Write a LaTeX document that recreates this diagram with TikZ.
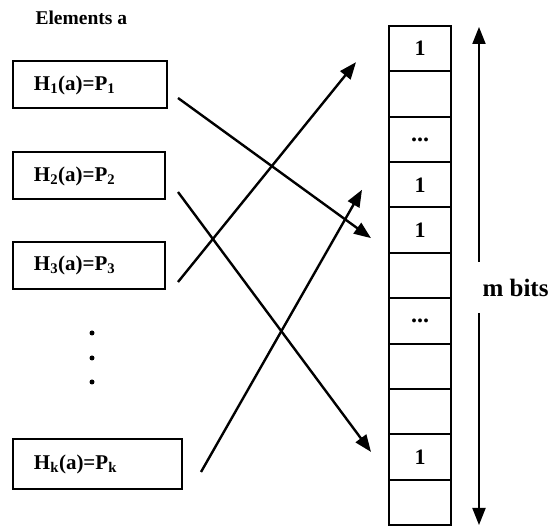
\documentclass[tikz,border=0pt]{standalone}
\usepackage{fontspec}
\setmainfont{Liberation Serif}
\usetikzlibrary{arrows.meta}
\newcommand{\bitdots}{\fontsize{24}{26}\selectfont...}
\begin{document}
\begin{tikzpicture}[x=1pt,y=1pt,
  hbox/.style={draw,line width=2pt,minimum height=47pt,inner xsep=21pt,
    font=\fontsize{21}{24}\selectfont\bfseries,align=left},
  bitcell/.style={draw,line width=2pt,minimum width=62pt,minimum height=45.36pt,
    inner sep=0pt,font=\fontsize{22}{24}\selectfont\bfseries},
  hasharrow/.style={line width=2.4pt,-{Triangle[length=17pt,width=13pt]}},
  dotmark/.style={circle,fill,inner sep=0pt,minimum size=5pt}]
\useasboundingbox (0,0) rectangle (550,531);
\node[font=\fontsize{19.5}{22}\selectfont\bfseries,anchor=base west] (elem) at (32,506) {Elements a};
\node[hbox,text width=112pt] (h1) at (90,446) {H\textsubscript{1}(a)=P\textsubscript{1}};
\node[hbox,text width=110pt] (h2) at (89,355) {H\textsubscript{2}(a)=P\textsubscript{2}};
\node[hbox,text width=110pt] (h3) at (89,265.5) {H\textsubscript{3}(a)=P\textsubscript{3}};
\node[hbox,text width=127pt,minimum height=50pt] (hk) at (97.5,67) {H\textsubscript{k}(a)=P\textsubscript{k}};
\node[dotmark] (d1) at (92,198) {};
\node[dotmark] (d2) at (92,173) {};
\node[dotmark] (d3) at (92,149) {};
\foreach \i/\t in {1/1,2/{},3/\bitdots,4/1,5/1,6/{},7/\bitdots,8/{},9/{},10/1,11/{}}{
  \node[bitcell] (c\i) at (420,{505-45.36*(\i-0.5)}) {\t};
}
\draw[hasharrow] ([xshift=10pt,yshift=-13pt]h1.east) -- ([xshift=-17pt,yshift=-8pt]c5.west);
\draw[hasharrow] ([xshift=12pt,yshift=-16pt]h2.east) -- ([xshift=-17pt,yshift=5pt]c10.west);
\draw[hasharrow] ([xshift=12pt,yshift=-16.5pt]h3.east) -- ([xshift=-32pt,yshift=-13.5pt]c1.west);
\draw[hasharrow] ([xshift=18pt,yshift=-8pt]hk.east) -- ([xshift=-26pt,yshift=-5pt]c4.west);
\node[font=\fontsize{25}{28}\selectfont\bfseries,anchor=base west] (mbits) at (479,234) {m bits};
\coordinate (mup) at (479,269);
\coordinate (mtop) at (479,504);
\coordinate (mdn) at (479,218);
\coordinate (mbot) at (479,6);
\draw[line width=2pt,-{Triangle[length=17pt,width=13pt]}] (mup) -- (mtop);
\draw[line width=2pt,-{Triangle[length=17pt,width=13pt]}] (mdn) -- (mbot);
\end{tikzpicture}
\end{document}
